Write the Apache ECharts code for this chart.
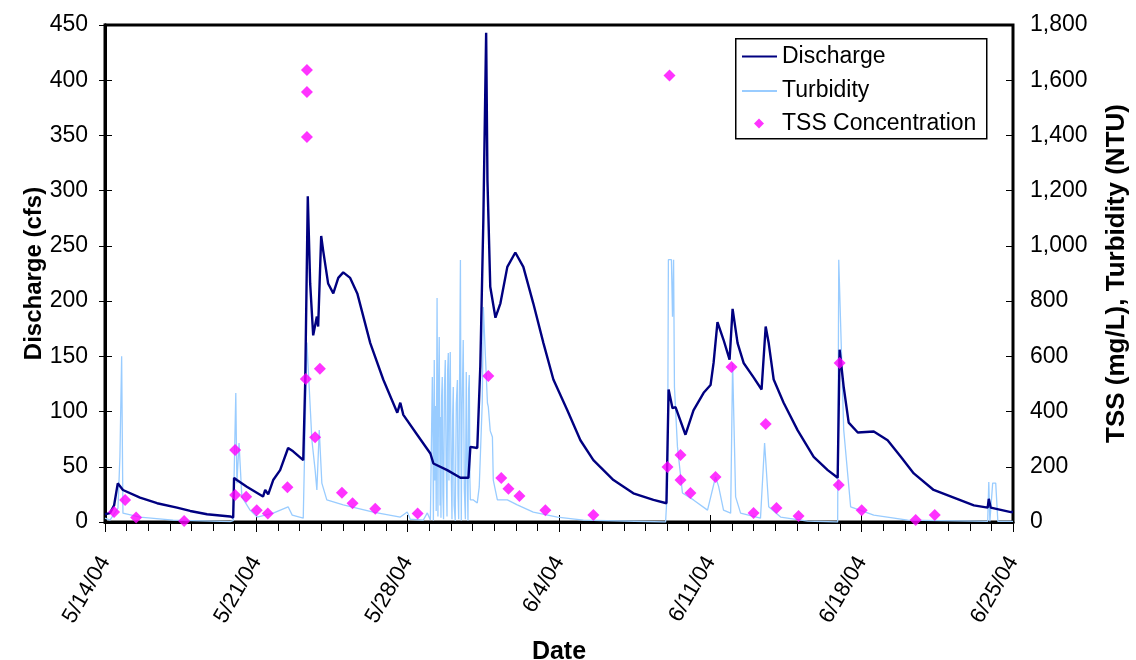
<!DOCTYPE html>
<html>
<head>
<meta charset="utf-8">
<script src="https://cdn.jsdelivr.net/npm/echarts@6/dist/echarts.min.js"></script>
<style>
  html, body { margin: 0; padding: 0; background: #fff; }
  #chart { width: 1136px; height: 660px; }
</style>
</head>
<body>
<div id="chart"></div>
<script>
// x values are days since 5/14/04
const tickLabels = ['5/14/04', '5/21/04', '5/28/04', '6/4/04', '6/11/04', '6/18/04', '6/25/04'];

// Discharge (cfs)
const dischargeDay = [
  0, 0.23, 0.42, 0.59, 0.83, 1.62, 2.41, 3.33, 3.94, 4.72, 5.79, 5.93, 5.97, 6.10, 6.56,
  7.31, 7.41, 7.55, 7.78, 8.10, 8.47, 8.70, 9.17, 9.26, 9.38, 9.49, 9.63, 9.80, 9.86, 10.00,
  10.09, 10.32, 10.56, 10.79, 11.02, 11.34, 11.67, 12.27, 12.87, 13.52, 13.66, 13.80, 14.44, 15.05, 15.19,
  15.83, 16.44, 16.81, 16.90, 17.22, 17.36, 17.50, 17.63, 17.69, 17.82, 18.06, 18.29, 18.61, 18.98, 19.35,
  19.81, 20.28, 20.74, 21.39, 21.99, 22.59, 23.52, 24.44, 25.37, 25.97, 26.07, 26.25, 26.39, 26.85, 27.22,
  27.69, 28.01, 28.15, 28.33, 28.61, 28.89, 29.03, 29.26, 29.54, 30.00, 30.37, 30.56, 30.70, 30.93, 31.39,
  32.04, 32.78, 33.43, 33.89, 33.98, 34.17, 34.40, 34.82, 35.56, 36.20, 36.81, 37.41, 38.33, 39.26, 40.19,
  40.83, 40.88, 40.97, 41.90, 42
];
const dischargeCfs = [
  7, 8, 15, 35, 29, 22, 17, 13, 10, 7, 5, 4, 40, 38, 32,
  23, 29, 25, 38, 47, 67, 64, 56, 126, 295, 216, 169, 186, 177, 259,
  246, 216, 207, 221, 226, 221, 207, 162, 129, 99, 108, 97, 79, 62, 53,
  47, 40, 40, 68, 67, 141, 273, 443, 310, 213, 185, 198, 231, 244, 231,
  198, 162, 129, 101, 74, 56, 38, 26, 20, 17, 120, 103, 104, 79, 101,
  117, 124, 144, 181, 165, 147, 193, 162, 144, 131, 120, 177, 162, 129, 108,
  83, 59, 47, 40, 156, 122, 90, 81, 82, 74, 59, 44, 29, 22, 15,
  13, 21, 13, 9, 9
];

// Turbidity (NTU)
const turbidityDay = [
  0, 0.23, 0.60, 0.69, 0.77, 0.83, 1.62, 3.15, 5.79, 5.93, 6.05, 6.10, 6.20, 6.33, 6.71,
  7.04, 7.78, 8.47, 8.66, 9.17, 9.34, 9.57, 9.72, 9.80, 9.91, 10.03, 10.26, 11.02, 12.41, 13.66,
  13.98, 14.12, 14.72, 14.91, 15.05,
  15.12, 15.14, 15.17, 15.19, 15.23, 15.26, 15.29, 15.32, 15.36, 15.40, 15.43, 15.46, 15.50, 15.52, 15.54,
  15.57, 15.60, 15.63, 15.66, 15.70, 15.74, 15.78, 15.82, 15.85, 15.88, 15.91, 15.93, 15.97, 16.01, 16.05,
  16.08, 16.11, 16.15, 16.20, 16.25, 16.30, 16.33, 16.36, 16.40, 16.44, 16.48, 16.52, 16.57, 16.62, 16.67,
  16.71, 16.75, 16.79, 16.82, 16.85, 16.88, 16.90,
  17.04, 17.22, 17.31, 17.45, 17.50, 17.59, 17.69, 17.73, 17.82, 17.92, 17.96,
  18.15, 18.61, 19.07, 19.81, 20.93, 22.13, 25.93, 26.02, 26.06, 26.20, 26.25, 26.30, 26.34, 26.48, 26.71,
  27.22, 27.87, 28.24, 28.38, 28.61, 28.94, 29.03, 29.17, 29.40, 30.32, 30.51, 30.70, 31.25, 32.50, 33.89,
  33.94, 34.17, 34.49, 35.56, 37.13, 40.83, 40.88, 40.93, 41.00, 41.06, 41.20, 41.30, 42
];
const turbidityNtu = [
  14, 7, 50, 236, 600, 32, 18, 7, 1, 5, 467, 140, 286, 91, 43,
  18, 32, 55, 25, 14, 650, 297, 188, 116, 333, 141, 80, 62, 36, 18,
  36, 10, 7, 33, 7,
  5, 525, 300, 5, 587, 150, 420, 40, 811, 20, 500, 670, 60, 380, 15,
  450, 525, 100, 10, 480, 587, 200, 20, 550, 612, 150, 400, 616, 200, 10,
  380, 489, 60, 5, 430, 514, 100, 10, 500, 949, 5, 420, 659, 120, 10,
  543, 200, 5, 480, 532, 150, 80,
  80, 69, 127, 431, 779, 612, 431, 417, 330, 308, 152,
  80, 80, 62, 36, 18, 7, 0, 127, 950, 950, 743, 950, 489, 272, 105,
  80, 43, 163, 130, 43, 32, 576, 91, 32, 14, 286, 55, 18, 3, 0,
  950, 333, 55, 25, 7, 2, 145, 2, 2, 141, 141, 2, 2
];

// TSS concentration (mg/L)
const tssDay = [
  0.42, 0.93, 1.44, 3.66, 6.02, 6.02, 6.53, 7.02, 7.53, 8.44, 9.29, 9.34, 9.34, 9.34, 9.72,
  9.94, 10.96, 11.45, 12.50, 14.46, 17.73, 18.33, 18.66, 19.17, 20.37, 22.59, 26.11, 26.02, 26.62, 26.62,
  27.08, 28.24, 28.98, 30.00, 30.56, 31.06, 32.08, 33.98, 33.94, 35.00, 37.50, 38.38
];
const tssMgL = [
  36, 80, 16, 4, 261, 98, 91, 43, 31, 126, 518, 1637, 1557, 1394, 307,
  555, 106, 68, 48, 31, 529, 159, 120, 94, 43, 25, 1617, 199, 243, 152,
  105, 163, 561, 33, 355, 51, 22, 576, 134, 43, 7, 25
];

const zip = (xs, ys) => xs.map((x, i) => [x, ys[i]]);

const font = 'Arial, "Liberation Sans", sans-serif';
const tickFont = { fontFamily: font, fontSize: 23, color: '#000' };

const chart = echarts.init(document.getElementById('chart'), null, { renderer: 'canvas' });

const option = {
  animation: false,
  backgroundColor: '#fff',
  grid: {
    left: 105, right: 123, top: 25, bottom: 138,
    outerBoundsMode: 'none', containLabel: false,
    show: true, borderColor: '#000', borderWidth: 3, backgroundColor: 'transparent'
  },
  graphic: [{
    type: 'rect', left: 735, top: 38, z: 3,
    shape: { width: 251, height: 100 },
    style: { fill: '#fff', stroke: '#000', lineWidth: 1.5 }
  }],
  legend: [
    {
      data: [{ name: 'Discharge', icon: 'rect' }, { name: 'Turbidity', icon: 'rect' }],
      orient: 'vertical', left: 742, top: 45, z: 5, padding: 0,
      itemWidth: 35, itemHeight: 2, itemGap: 11.5,
      textStyle: { fontFamily: font, fontSize: 23, color: '#000', lineHeight: 22 }
    },
    {
      data: [{ name: 'TSS Concentration', icon: 'diamond' }],
      orient: 'vertical', left: 754, top: 112, z: 5, padding: 0,
      itemWidth: 10, itemHeight: 10,
      textStyle: { fontFamily: font, fontSize: 23, color: '#000', lineHeight: 22, padding: [0, 0, 0, 13] }
    }
  ],
  xAxis: [
    {
      type: 'value', min: 0, max: 42, interval: 7,
      name: 'Date', nameLocation: 'middle', nameGap: 118, nameMoveOverlap: false,
      nameTextStyle: { fontFamily: font, fontSize: 25, fontWeight: 'bold', color: '#000' },
      axisLine: { show: true, lineStyle: { color: '#000', width: 3 } },
      axisTick: { show: true, length: 10, lineStyle: { color: '#000', width: 1 } },
      minorTick: { show: true, splitNumber: 7, length: 9, lineStyle: { color: '#000', width: 1 } },
      splitLine: { show: false },
      axisLabel: {
        fontFamily: font, fontSize: 22, color: '#000', rotate: 60, margin: 36,
        showMinLabel: true, showMaxLabel: true,
        formatter: v => tickLabels[Math.round(v / 7)]
      }
    },
    {
      // inner half of the crossing major ticks
      type: 'value', min: 0, max: 42, interval: 7, position: 'bottom',
      axisLine: { show: false },
      axisTick: { show: true, inside: true, length: 7, lineStyle: { color: '#000', width: 1 } },
      axisLabel: { show: false },
      splitLine: { show: false }
    }
  ],
  yAxis: [
    {
      type: 'value', min: 0, max: 450, interval: 50, position: 'left',
      name: 'Discharge (cfs)', nameLocation: 'middle', nameGap: 59, nameRotate: 90, nameMoveOverlap: false,
      nameTextStyle: { fontFamily: font, fontSize: 24, fontWeight: 'bold', color: '#000' },
      axisLine: { show: true, lineStyle: { color: '#000', width: 3 } },
      axisTick: { show: true, length: 6, lineStyle: { color: '#000', width: 1 } },
      splitLine: { show: false },
      axisLabel: { ...tickFont, margin: 17 }
    },
    {
      type: 'value', min: 0, max: 1800, interval: 200, position: 'right',
      name: 'TSS (mg/L), Turbidity (NTU)', nameLocation: 'middle', nameGap: 91, nameRotate: 90, nameMoveOverlap: false,
      nameTextStyle: { fontFamily: font, fontSize: 26, fontWeight: 'bold', color: '#000' },
      axisLine: { show: true, lineStyle: { color: '#000', width: 3 } },
      axisTick: { show: true, length: 7, lineStyle: { color: '#000', width: 1 } },
      splitLine: { show: false },
      axisLabel: { ...tickFont, margin: 17 }
    },
    {
      // inner half of the crossing right-hand ticks
      type: 'value', min: 0, max: 1800, interval: 200, position: 'right',
      axisLine: { show: false },
      axisTick: { show: true, inside: true, length: 7, lineStyle: { color: '#000', width: 1 } },
      axisLabel: { show: false },
      splitLine: { show: false }
    }
  ],
  series: [
    {
      name: 'Turbidity', type: 'line', yAxisIndex: 1, z: 2,
      data: zip(turbidityDay, turbidityNtu),
      symbol: 'none', lineStyle: { color: '#99CCFF', width: 1.3 }, itemStyle: { color: '#99CCFF' }
    },
    {
      name: 'Discharge', type: 'line', yAxisIndex: 0, z: 3,
      data: zip(dischargeDay, dischargeCfs),
      symbol: 'none', lineStyle: { color: '#000080', width: 2.4 }, itemStyle: { color: '#000080' }
    },
    {
      name: 'TSS Concentration', type: 'scatter', yAxisIndex: 1, z: 4,
      data: zip(tssDay, tssMgL),
      symbol: 'diamond', symbolSize: 12, itemStyle: { color: '#FF00FF' }
    }
  ]
};

chart.setOption(option);
</script>
</body>
</html>
